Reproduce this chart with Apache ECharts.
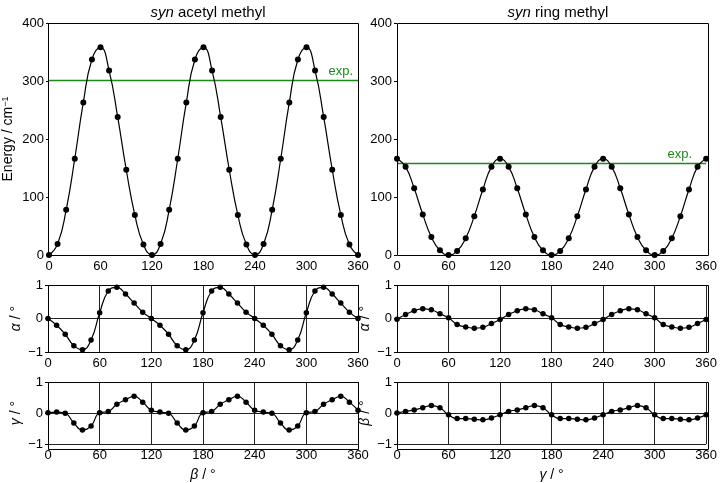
<!DOCTYPE html>
<html>
<head>
<meta charset="utf-8">
<script src="https://cdn.jsdelivr.net/npm/echarts@6/dist/echarts.min.js"></script>
<style>
  html, body { margin: 0; padding: 0; background: #fff; }
  #chart { width: 720px; height: 483px; }
</style>
</head>
<body>
<div id="chart"></div>
<script>
// torsion angle grid (deg)
var angles = [0,10,20,30,40,50,60,70,80,90,100,110,120,130,140,150,160,170,180,
              190,200,210,220,230,240,250,260,270,280,290,300,310,320,330,340,350,360];

// syn acetyl methyl: energy vs beta, and relaxation of alpha, gamma
var energyAcetyl = [0,19,78,166,263,337,358,318,238,147,69,18,
                    0,19,78,166,263,337,358,318,238,147,69,18,
                    0,19,78,166,263,337,358,318,238,147,69,18, 0];
var alphaAcetyl = [0,-0.2,-0.47,-0.81,-0.93,-0.64,0.17,0.82,0.93,0.73,0.46,0.19,
                   0,-0.2,-0.47,-0.81,-0.93,-0.64,0.17,0.82,0.93,0.73,0.46,0.19,
                   0,-0.2,-0.47,-0.81,-0.93,-0.64,0.17,0.82,0.93,0.73,0.46,0.19, 0];
var gammaAcetyl = [0.01,0.03,-0.01,-0.32,-0.55,-0.42,0.01,0.05,0.28,0.43,0.54,0.35,
                   0.09,0.03,-0.01,-0.32,-0.55,-0.42,0.01,0.05,0.28,0.43,0.54,0.35,
                   0.09,0.03,-0.01,-0.32,-0.55,-0.42,0.01,0.05,0.28,0.43,0.54,0.35, 0.09];

// syn ring methyl: energy vs gamma, and relaxation of alpha, beta
var energyRing = [166,152,115,70,31,8,0,7,29,67,113,152,
                  166,152,115,70,31,8,0,7,29,67,113,152,
                  166,152,115,70,31,8,0,7,29,67,113,152, 166];
var alphaRing = [-0.02,0.12,0.23,0.29,0.26,0.14,0.02,-0.18,-0.25,-0.29,-0.26,-0.15,
                 -0.03,0.12,0.23,0.29,0.26,0.14,0.02,-0.18,-0.25,-0.29,-0.26,-0.15,
                 -0.03,0.12,0.23,0.29,0.26,0.14,0.02,-0.18,-0.25,-0.29,-0.26,-0.15, -0.03];
var betaRing = [0,0.05,0.1,0.17,0.24,0.17,-0.06,-0.18,-0.18,-0.2,-0.22,-0.16,
                -0.06,0.05,0.1,0.17,0.24,0.17,-0.06,-0.18,-0.18,-0.2,-0.22,-0.16,
                -0.06,0.05,0.1,0.17,0.24,0.17,-0.06,-0.18,-0.18,-0.2,-0.22,-0.16, -0.06];

// experimental barriers (cm-1)
var expEnergy = [302, 159];

var FONT = '"Liberation Sans", Arial, Helvetica, sans-serif';
var GREEN = '#1a8a1a';

function pairs(ys) {
    return angles.map(function (a, i) { return [a, ys[i]]; });
}
function minus(v) { return String(v).replace('-', '\u2212'); }

var cols = [{ left: 48, width: 310 }, { left: 397, width: 311 }];
var rows = [
    { top: 23, height: 232, min: 0, max: 400, interval: 100, energy: true },
    { top: 285, height: 67, min: -1, max: 1, interval: 1 },
    { top: 382, height: 67, min: -1, max: 1, interval: 1 }
];
var yNames = [
    ['Energy / cm{sup|\u22121}', '{i|\u03b1} / \u00b0', '{i|\u03b3} / \u00b0'],
    ['', '{i|\u03b1} / \u00b0', '{i|\u03b2} / \u00b0']
];
var xNames = ['{i|\u03b2} / \u00b0', '{i|\u03b3} / \u00b0'];
var seriesData = [
    [energyAcetyl, alphaAcetyl, gammaAcetyl],
    [energyRing, alphaRing, betaRing]
];
var nameRich = {
    i: { fontStyle: 'italic', fontSize: 14, fontFamily: FONT, color: '#000' },
    sup: { fontSize: 9, verticalAlign: 'top', fontFamily: FONT, color: '#000', padding: [0, 0, 6, 0] }
};

var grid = [], xAxis = [], yAxis = [], series = [], frames = [];
var idx = 0;
for (var c = 0; c < 2; c++) {
    for (var r = 0; r < 3; r++) {
        var row = rows[r];
        grid.push({
            left: cols[c].left, width: cols[c].width, top: row.top, height: row.height
        });
        // panel box
        frames.push({
            type: 'rect', silent: true, z: 10,
            shape: { x: cols[c].left + 0.5, y: row.top + 0.5, width: cols[c].width, height: row.height },
            style: { fill: null, stroke: '#000', lineWidth: 1 }
        });
        xAxis.push({
            type: 'value', gridIndex: idx, min: 0, max: 360, interval: 60,
            axisLine: { show: false },
            axisTick: { show: false },
            axisLabel: { color: '#000', fontSize: 13, fontFamily: FONT, margin: 5 },
            splitLine: { show: !row.energy, lineStyle: { color: '#222', width: 1 } },
            name: r === 2 ? xNames[c] : '',
            nameLocation: 'middle', nameGap: 24,
            nameTextStyle: { color: '#000', fontSize: 14, fontFamily: FONT, rich: nameRich }
        });
        yAxis.push({
            type: 'value', gridIndex: idx, min: row.min, max: row.max, interval: row.interval,
            axisLine: { show: false },
            axisTick: { show: true, length: 3, lineStyle: { color: '#000' } },
            axisLabel: { color: '#000', fontSize: 13, fontFamily: FONT, margin: 5, formatter: minus },
            splitLine: { show: !row.energy, lineStyle: { color: '#222', width: 1 } },
            name: yNames[c][r],
            nameLocation: 'middle', nameRotate: 90,
            nameGap: row.energy ? 33 : 25,
            nameTextStyle: { color: '#000', fontSize: 14, fontFamily: FONT, rich: nameRich }
        });
        var s = {
            type: 'line', xAxisIndex: idx, yAxisIndex: idx,
            data: pairs(seriesData[c][r]),
            smooth: 0.5, clip: false,
            symbol: 'circle', symbolSize: row.energy ? 6 : 5.5,
            lineStyle: { color: '#000', width: 1.2 },
            itemStyle: { color: '#000' },
            z: 5
        };
        if (row.energy) {
            s.markLine = {
                silent: true, symbol: 'none',
                lineStyle: { color: GREEN, width: 1.3, type: 'solid' },
                label: {
                    show: true, formatter: 'exp.', position: 'insideEndTop',
                    color: GREEN, fontSize: 13, fontFamily: FONT, distance: [c === 0 ? 5 : 14, 2]
                },
                data: [{ yAxis: expEnergy[c] }]
            };
        }
        series.push(s);
        idx++;
    }
}

var titleRich = {
    i: { fontStyle: 'italic', fontWeight: 'normal', fontSize: 15, fontFamily: FONT, color: '#000' },
    n: { fontWeight: 'normal', fontSize: 15, fontFamily: FONT, color: '#000' }
};

var chart = echarts.init(document.getElementById('chart'));
chart.setOption({
    backgroundColor: '#fff',
    animation: false,
    title: [
        { text: '{i|syn}{n| acetyl methyl}', left: 203, top: 0, textAlign: 'center',
          textStyle: { fontWeight: 'normal', rich: titleRich } },
        { text: '{i|syn}{n| ring methyl}', left: 553, top: 0, textAlign: 'center',
          textStyle: { fontWeight: 'normal', rich: titleRich } }
    ],
    grid: grid,
    xAxis: xAxis,
    yAxis: yAxis,
    series: series,
    graphic: frames
});
</script>
</body>
</html>
